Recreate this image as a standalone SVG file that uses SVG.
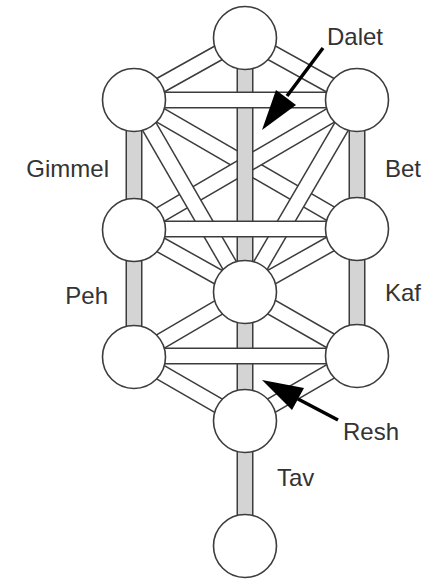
<svg xmlns="http://www.w3.org/2000/svg" width="435" height="588" viewBox="0 0 435 588">
<style>
.o{stroke:#3c3c3c;stroke-width:17;fill:none}
.w{stroke:#ffffff;stroke-width:14;fill:none}
.g{stroke:#d4d4d4;stroke-width:14;fill:none}
.n{fill:#ffffff;stroke:#3c3c3c;stroke-width:1.6}
.t{font-family:"Liberation Sans",Arial,sans-serif;font-size:24px;fill:#333333}
.ar{stroke:#000;stroke-width:3.5;fill:none}
.ah{fill:#000}
</style>
<rect width="435" height="588" fill="#ffffff"/>
<g id="connectors">
  <g id="p-keter-chokmah"><line class="o" x1="245" y1="38" x2="357" y2="100"/><line class="w" x1="245" y1="38" x2="357" y2="100"/></g>
  <g id="p-keter-binah"><line class="o" x1="245" y1="38" x2="134" y2="100"/><line class="w" x1="245" y1="38" x2="134" y2="100"/></g>
  <g id="p-binah-chesed"><line class="o" x1="134" y1="100" x2="357" y2="229"/><line class="w" x1="134" y1="100" x2="357" y2="229"/></g>
  <g id="p-chokmah-geburah"><line class="o" x1="357" y1="100" x2="134" y2="230"/><line class="w" x1="357" y1="100" x2="134" y2="230"/></g>
  <g id="p-binah-tiferet"><line class="o" x1="134" y1="100" x2="245" y2="292"/><line class="w" x1="134" y1="100" x2="245" y2="292"/></g>
  <g id="p-chokmah-tiferet"><line class="o" x1="357" y1="100" x2="245" y2="292"/><line class="w" x1="357" y1="100" x2="245" y2="292"/></g>
  <g id="p-chesed-tiferet"><line class="o" x1="357" y1="229" x2="245" y2="292"/><line class="w" x1="357" y1="229" x2="245" y2="292"/></g>
  <g id="p-geburah-tiferet"><line class="o" x1="134" y1="230" x2="245" y2="292"/><line class="w" x1="134" y1="230" x2="245" y2="292"/></g>
  <g id="p-tiferet-netzach"><line class="o" x1="245" y1="292" x2="357" y2="356"/><line class="w" x1="245" y1="292" x2="357" y2="356"/></g>
  <g id="p-tiferet-hod"><line class="o" x1="245" y1="292" x2="134" y2="357"/><line class="w" x1="245" y1="292" x2="134" y2="357"/></g>
  <g id="p-netzach-yesod"><line class="o" x1="357" y1="356" x2="245" y2="421"/><line class="w" x1="357" y1="356" x2="245" y2="421"/></g>
  <g id="p-hod-yesod"><line class="o" x1="134" y1="357" x2="245" y2="421"/><line class="w" x1="134" y1="357" x2="245" y2="421"/></g>
  <g id="p-keter-tiferet"><line class="o" x1="245" y1="38" x2="245" y2="292"/><line class="g" x1="245" y1="38" x2="245" y2="292"/></g>
  <g id="p-chokmah-chesed"><line class="o" x1="357" y1="100" x2="357" y2="229"/><line class="g" x1="357" y1="100" x2="357" y2="229"/></g>
  <g id="p-binah-geburah"><line class="o" x1="134" y1="100" x2="134" y2="230"/><line class="g" x1="134" y1="100" x2="134" y2="230"/></g>
  <g id="p-chesed-netzach"><line class="o" x1="357" y1="229" x2="357" y2="356"/><line class="g" x1="357" y1="229" x2="357" y2="356"/></g>
  <g id="p-geburah-hod"><line class="o" x1="134" y1="230" x2="134" y2="357"/><line class="g" x1="134" y1="230" x2="134" y2="357"/></g>
  <g id="p-tiferet-yesod"><line class="o" x1="245" y1="292" x2="245" y2="421"/><line class="g" x1="245" y1="292" x2="245" y2="421"/></g>
  <g id="p-yesod-malkuth"><line class="o" x1="245" y1="421" x2="245" y2="546"/><line class="g" x1="245" y1="421" x2="245" y2="546"/></g>
  <g id="p-chokmah-binah"><line class="o" x1="134" y1="100" x2="357" y2="100"/><line class="w" x1="134" y1="100" x2="357" y2="100"/></g>
  <g id="p-geburah-chesed"><line class="o" x1="134" y1="229" x2="357" y2="229"/><line class="w" x1="134" y1="229" x2="357" y2="229"/></g>
  <g id="p-hod-netzach"><line class="o" x1="134" y1="356" x2="357" y2="356"/><line class="w" x1="134" y1="356" x2="357" y2="356"/></g>
</g>
<g id="keter"><circle class="n" cx="245" cy="38" r="31.5"/></g>
<g id="chokmah"><circle class="n" cx="357" cy="100" r="31.5"/></g>
<g id="binah"><circle class="n" cx="134" cy="100" r="31.5"/></g>
<g id="chesed"><circle class="n" cx="357" cy="229" r="31.5"/></g>
<g id="geburah"><circle class="n" cx="134" cy="230" r="31.5"/></g>
<g id="tiferet"><circle class="n" cx="245" cy="292" r="31.5"/></g>
<g id="netzach"><circle class="n" cx="357" cy="356" r="31.5"/></g>
<g id="hod"><circle class="n" cx="134" cy="357" r="31.5"/></g>
<g id="yesod"><circle class="n" cx="245" cy="421" r="31.5"/></g>
<g id="malkuth"><circle class="n" cx="245" cy="546" r="31.5"/></g>
<g id="arrows">
  <line class="ar" x1="323" y1="48" x2="287" y2="96"/>
  <polygon class="ah" points="262,130 296,105 276,90"/>
  <line class="ar" x1="338" y1="420" x2="298" y2="399"/>
  <polygon class="ah" points="262,380 292,410 304,388"/>
</g>
<g id="labels">
  <text class="t" x="327" y="45">Dalet</text>
  <text class="t" x="109" y="177" text-anchor="end">Gimmel</text>
  <text class="t" x="385" y="177">Bet</text>
  <text class="t" x="108" y="304" text-anchor="end">Peh</text>
  <text class="t" x="385" y="301">Kaf</text>
  <text class="t" x="343" y="440">Resh</text>
  <text class="t" x="277" y="486">Tav</text>
</g>
</svg>
